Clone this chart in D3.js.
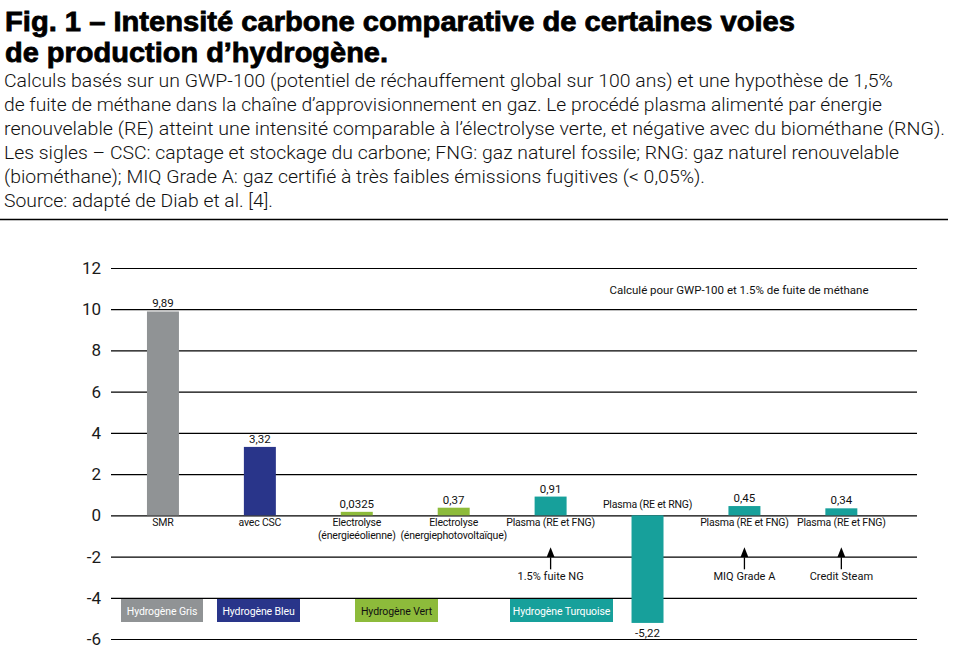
<!DOCTYPE html>
<html>
<head>
<meta charset="utf-8">
<script src="https://cdn.jsdelivr.net/npm/d3@7"></script>
<style>
  body { margin: 0; background: #fff; }
  svg text { font-family: Roboto, "Liberation Sans", sans-serif; }
</style>
</head>
<body>
<div id="chart"></div>
<script>
// data
var categories = ["SMR", "avec CSC", "Electrolyse|(énergieéolienne)", "Electrolyse|(énergiephotovoltaïque)",
  "Plasma (RE et FNG)", "Plasma (RE et RNG)", "Plasma (RE et FNG)#2", "Plasma (RE et FNG)#3"];
var values = [9.89, 3.32, 0.0325, 0.37, 0.91, -5.22, 0.45, 0.34];
var groups = ["Gris", "Bleu", "Vert", "Vert", "Turquoise", "Turquoise", "Turquoise", "Turquoise"];
var notes = [null, null, null, null, "1.5% fuite NG", null, "MIQ Grade A", "Credit Steam"];
var groupNames = ["Gris", "Bleu", "Vert", "Turquoise"];
var yTicks = [-6, -4, -2, 0, 2, 4, 6, 8, 10, 12];

var title = ["Fig. 1 – Intensité carbone comparative de certaines voies",
  "de production d’hydrogène."];
var subtitle = [
  "Calculs basés sur un GWP-100 (potentiel de réchauffement global sur 100 ans) et une hypothèse de 1,5%",
  "de fuite de méthane dans la chaîne d’approvisionnement en gaz. Le procédé plasma alimenté par énergie",
  "renouvelable (RE) atteint une intensité comparable à l’électrolyse verte, et négative avec du biométhane (RNG).",
  "Les sigles – CSC: captage et stockage du carbone; FNG: gaz naturel fossile; RNG: gaz naturel renouvelable",
  "(biométhane); MIQ Grade A: gaz certifié à très faibles émissions fugitives (< 0,05%).",
  "Source: adapté de Diab et al. [4]."
];
var chartNote = "Calculé pour GWP-100 et 1.5% de fuite de méthane";

// styling
var colors = { Gris: "#909395", Bleu: "#29358a", Vert: "#8dbb3b", Turquoise: "#17a09b" };
var titleWidths = [790, 383];
var subWidths = [889, 878, 941, 895, 701, 269];
var legendLayout = { Gris: [121, 82], Bleu: [217, 83], Vert: [355, 83], Turquoise: [510, 103] };

var width = 953, height = 668;
var svg = d3.select("#chart").append("svg")
  .attr("width", width)
  .attr("height", height);

// header
svg.selectAll(".title")
  .data(title).enter()
  .append("text")
  .attr("class", "title")
  .attr("x", 5)
  .attr("y", function(d, i) { return 31 + i * 31; })
  .attr("textLength", function(d, i) { return titleWidths[i]; })
  .attr("lengthAdjust", "spacingAndGlyphs")
  .style("font-family", "'Liberation Sans', Arial, sans-serif")
  .style("font-weight", "bold")
  .style("font-size", "28px")
  .attr("stroke", "#000")
  .attr("stroke-width", 0.8)
  .text(function(d) { return d; });

svg.selectAll(".sub")
  .data(subtitle).enter()
  .append("text")
  .attr("class", "sub")
  .attr("x", 4)
  .attr("y", function(d, i) { return 87 + i * 24; })
  .attr("textLength", function(d, i) { return subWidths[i]; })
  .attr("lengthAdjust", "spacingAndGlyphs")
  .style("font-size", "19px")
  .style("font-weight", 300)
  .attr("fill", "#111")
  .text(function(d) { return d; });

svg.append("line")
  .attr("x1", 0).attr("x2", 948)
  .attr("y1", 219.5).attr("y2", 219.5)
  .attr("stroke", "#000").attr("stroke-width", 1.5);

// scales
var y = d3.scaleLinear().domain([-6, 12]).range([639, 268]);
var x = d3.scaleBand()
  .domain(categories)
  .range([114.5, 889.8])
  .paddingInner(0.67)
  .paddingOuter(0.335);

var fr = d3.formatLocale({ decimal: ",", thousands: " ", grouping: [3], currency: ["", "€"], minus: "-" });
var fmt = fr.format("~g");

// grid + y labels
var yAxis = d3.axisLeft(y).tickValues(yTicks).tickSize(-806).tickPadding(10).tickFormat(fr.format("d"));
var gy = svg.append("g")
  .attr("transform", "translate(111,0)")
  .call(yAxis);
gy.select(".domain").remove();
gy.selectAll(".tick line").attr("stroke", "#000").attr("stroke-width", 1.2);
gy.selectAll(".tick text")
  .attr("fill", "#1a1a1a")
  .style("font-size", "17px")
  .style("font-family", "Roboto, sans-serif")
  .attr("x", -10);

// bars
var rows = categories.map(function(c, i) {
  return { key: c, label: c.split("#")[0].split("|"), value: values[i], group: groups[i], note: notes[i] };
});

svg.selectAll(".bar")
  .data(rows).enter()
  .append("rect")
  .attr("class", "bar")
  .attr("x", function(d) { return x(d.key); })
  .attr("width", x.bandwidth())
  .attr("y", function(d) { return d.value >= 0 ? y(d.value) - Math.max(0, 3.5 - (y(0) - y(d.value))) : y(0); })
  .attr("height", function(d) { return Math.max(3.5, Math.abs(y(d.value) - y(0))); })
  .attr("fill", function(d) { return colors[d.group]; });

// value labels
svg.selectAll(".val")
  .data(rows).enter()
  .append("text")
  .attr("class", "val")
  .attr("x", function(d) { return x(d.key) + x.bandwidth() / 2; })
  .attr("y", function(d) {
    return d.value >= 0 ? Math.min(y(d.value), y(0) - 3.5) - 4 : y(d.value) + 14;
  })
  .attr("text-anchor", "middle")
  .style("font-size", "11.5px")
  .attr("fill", "#111")
  .text(function(d) { return fmt(d.value); });

// category labels
var cat = svg.selectAll(".cat")
  .data(rows).enter()
  .append("text")
  .attr("class", "cat")
  .attr("text-anchor", "middle")
  .style("font-size", "10.5px")
  .style("letter-spacing", "-0.2px")
  .attr("fill", "#111")
  .attr("transform", function(d) {
    var yy = d.value >= 0 ? y(0) + 11 : y(0) - 7;
    return "translate(" + (x(d.key) + x.bandwidth() / 2) + "," + yy + ")";
  });
cat.selectAll("tspan")
  .data(function(d) { return d.label; }).enter()
  .append("tspan")
  .attr("x", 0)
  .attr("dy", function(d, i) { return i ? 12.5 : 0; })
  .text(function(d) { return d; });

// arrow notes
svg.append("defs").append("marker")
  .attr("id", "head")
  .attr("viewBox", "0 0 10 8")
  .attr("refX", 0).attr("refY", 4)
  .attr("markerWidth", 10).attr("markerHeight", 8)
  .attr("markerUnits", "userSpaceOnUse")
  .attr("orient", "auto")
  .append("path")
  .attr("d", "M0,0L10,4L0,8z")
  .attr("fill", "#000");

var noted = rows.filter(function(d) { return d.note; });
svg.selectAll(".arrow")
  .data(noted).enter()
  .append("line")
  .attr("class", "arrow")
  .attr("x1", function(d) { return x(d.key) + x.bandwidth() / 2; })
  .attr("x2", function(d) { return x(d.key) + x.bandwidth() / 2; })
  .attr("y1", y(0) + 54)
  .attr("y2", y(0) + 42)
  .attr("stroke", "#000")
  .attr("stroke-width", 1.3)
  .attr("marker-end", "url(#head)");

svg.selectAll(".note")
  .data(noted).enter()
  .append("text")
  .attr("class", "note")
  .attr("x", function(d) { return x(d.key) + x.bandwidth() / 2; })
  .attr("y", y(0) + 65)
  .attr("text-anchor", "middle")
  .style("font-size", "11px")
  .attr("fill", "#111")
  .text(function(d) { return d.note; });

// chart note
svg.append("text")
  .attr("x", 739)
  .attr("y", 294)
  .attr("text-anchor", "middle")
  .style("font-size", "11.5px")
  .attr("fill", "#111")
  .text(chartNote);

// legend boxes
var leg = svg.selectAll(".leg")
  .data(groupNames).enter()
  .append("g")
  .attr("class", "leg")
  .attr("transform", function(d) { return "translate(" + legendLayout[d][0] + ",599)"; });
leg.append("rect")
  .attr("width", function(d) { return legendLayout[d][1]; })
  .attr("height", 23)
  .attr("fill", function(d) { return colors[d]; });
leg.append("text")
  .attr("x", function(d) { return legendLayout[d][1] / 2; })
  .attr("y", 15.5)
  .attr("text-anchor", "middle")
  .style("font-size", "10.5px")
  .style("letter-spacing", "-0.1px")
  .attr("fill", function(d) { return d === "Vert" ? "#111" : "#fff"; })
  .text(function(d) { return "Hydrogène " + d; });
</script>
</body>
</html>
